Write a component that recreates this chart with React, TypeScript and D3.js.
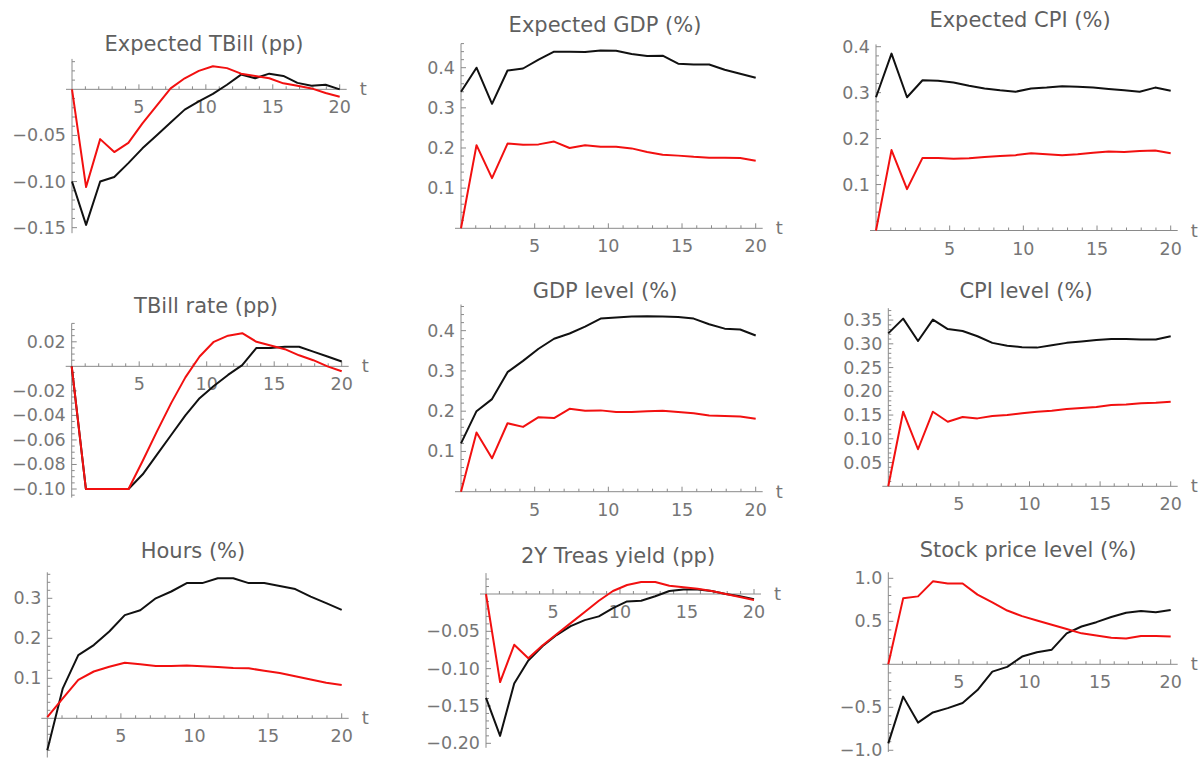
import React from "react";
import * as d3 from "d3";

// 20 quarterly points spread over t = 0..20 (DataRange {0,20})
const pointIndex = [0, 1, 2, 3, 4, 5, 6, 7, 8, 9, 10, 11, 12, 13, 14, 15, 16, 17, 18, 19];
const xTicksMajor = [5, 10, 15, 20];

const expTBillBlack = [-0.1, -0.147, -0.1, -0.095, -0.08, -0.064, -0.05, -0.036, -0.022, -0.013, -0.005, 0.005, 0.016, 0.012, 0.017, 0.0145, 0.007, 0.004, 0.005, 0.0];
const expTBillRed = [0, -0.106, -0.054, -0.068, -0.058, -0.037, -0.018, 0.001, 0.012, 0.02, 0.025, 0.023, 0.017, 0.0145, 0.012, 0.0065, 0.004, 0.001, -0.004, -0.008];

const expGdpBlack = [0.34, 0.4, 0.31, 0.393, 0.398, 0.42, 0.44, 0.44, 0.439, 0.443, 0.442, 0.434, 0.429, 0.43, 0.41, 0.408, 0.408, 0.395, 0.385, 0.375];
const expGdpRed = [0, 0.207, 0.125, 0.211, 0.208, 0.209, 0.216, 0.2, 0.207, 0.203, 0.203, 0.199, 0.19, 0.183, 0.181, 0.178, 0.176, 0.176, 0.175, 0.168];

const expCpiBlack = [0.29, 0.385, 0.29, 0.327, 0.326, 0.322, 0.315, 0.309, 0.305, 0.302, 0.309, 0.311, 0.314, 0.313, 0.311, 0.308, 0.305, 0.302, 0.311, 0.304];
const expCpiRed = [0, 0.175, 0.09, 0.158, 0.158, 0.156, 0.157, 0.16, 0.162, 0.164, 0.168, 0.166, 0.164, 0.166, 0.169, 0.172, 0.171, 0.173, 0.174, 0.168];

const tbillBlack = [0, -0.1, -0.1, -0.1, -0.1, -0.088, -0.072, -0.056, -0.04, -0.026, -0.016, -0.007, 0.001, 0.015, 0.015, 0.016, 0.016, 0.012, 0.008, 0.004];
const tbillRed = [0, -0.1, -0.1, -0.1, -0.1, -0.077, -0.053, -0.03, -0.009, 0.008, 0.02, 0.025, 0.027, 0.02, 0.017, 0.014, 0.009, 0.005, 0.0, -0.004];

const gdpBlack = [0.12, 0.2, 0.23, 0.297, 0.325, 0.355, 0.38, 0.393, 0.41, 0.43, 0.433, 0.435, 0.436, 0.435, 0.434, 0.43, 0.416, 0.405, 0.403, 0.388];
const gdpRed = [0, 0.147, 0.083, 0.17, 0.161, 0.185, 0.183, 0.206, 0.201, 0.202, 0.198, 0.198, 0.2, 0.201, 0.198, 0.195, 0.189, 0.188, 0.187, 0.181];

const cpiBlack = [0.322, 0.353, 0.306, 0.351, 0.331, 0.327, 0.316, 0.302, 0.296, 0.293, 0.292, 0.297, 0.302, 0.305, 0.308, 0.31, 0.31, 0.309, 0.309, 0.316];
const cpiRed = [0, 0.157, 0.078, 0.157, 0.136, 0.146, 0.143, 0.148, 0.15, 0.154, 0.157, 0.159, 0.163, 0.165, 0.167, 0.171, 0.172, 0.175, 0.176, 0.178];

const hoursBlack = [-0.08, 0.075, 0.158, 0.183, 0.217, 0.258, 0.27, 0.3, 0.317, 0.338, 0.338, 0.35, 0.35, 0.338, 0.338, 0.331, 0.323, 0.304, 0.288, 0.271];
const hoursRed = [0.003, 0.05, 0.096, 0.117, 0.129, 0.139, 0.135, 0.131, 0.131, 0.132, 0.13, 0.128, 0.126, 0.125, 0.119, 0.113, 0.105, 0.097, 0.089, 0.083];

const treas2yBlack = [-0.139, -0.19, -0.12, -0.089, -0.07, -0.055, -0.043, -0.035, -0.03, -0.019, -0.01, -0.009, -0.003, 0.004, 0.006, 0.006, 0.004, 0.0, -0.003, -0.007];
const treas2yRed = [0, -0.118, -0.068, -0.086, -0.069, -0.054, -0.039, -0.024, -0.009, 0.004, 0.012, 0.016, 0.016, 0.011, 0.009, 0.007, 0.004, 0.0, -0.004, -0.008];

const stockBlack = [-0.92, -0.376, -0.678, -0.56, -0.51, -0.45, -0.3, -0.085, -0.03, 0.09, 0.14, 0.17, 0.36, 0.44, 0.49, 0.55, 0.6, 0.62, 0.605, 0.632];
const stockRed = [0, 0.767, 0.79, 0.965, 0.94, 0.94, 0.81, 0.72, 0.625, 0.56, 0.51, 0.46, 0.41, 0.36, 0.335, 0.31, 0.3, 0.33, 0.33, 0.322];

const titles = [
  "Expected TBill (pp)", "Expected GDP (%)", "Expected CPI (%)",
  "TBill rate (pp)", "GDP level (%)", "CPI level (%)",
  "Hours (%)", "2Y Treas yield (pp)", "Stock price level (%)",
];
const blackSeries = [expTBillBlack, expGdpBlack, expCpiBlack, tbillBlack, gdpBlack, cpiBlack, hoursBlack, treas2yBlack, stockBlack];
const redSeries = [expTBillRed, expGdpRed, expCpiRed, tbillRed, gdpRed, cpiRed, hoursRed, treas2yRed, stockRed];
const yDomains: [number, number][] = [
  [-0.156, 0.033], [0, 0.46], [0, 0.405],
  [-0.107, 0.035], [0, 0.465], [0, 0.375],
  [-0.098, 0.365], [-0.206, 0.028], [-1.02, 1.07],
];
const yMajor = [0.05, 0.1, 0.1, 0.02, 0.1, 0.05, 0.1, 0.05, 0.5];
const yMinor = [0.01, 0.02, 0.02, 0.005, 0.02, 0.01, 0.02, 0.01, 0.1];
const yDecimals = [2, 1, 1, 2, 1, 2, 1, 2, 1];

// layout (pixels)
const layout = [
  { x0: 72, x20: 339.7, yBot: 233.2, yTop: 58.9, tx: 204, ty: 50.5 },
  { x0: 461, x20: 755.7, yBot: 228.3, yTop: 43.6, tx: 605, ty: 32 },
  { x0: 876, x20: 1170.7, yBot: 230.5, yTop: 44.4, tx: 1020, ty: 27 },
  { x0: 71.7, x20: 341.7, yBot: 497.6, yTop: 323.4, tx: 206, ty: 313 },
  { x0: 461, x20: 755.7, yBot: 491.7, yTop: 304.5, tx: 605, ty: 298 },
  { x0: 888.3, x20: 1170.7, yBot: 486.3, yTop: 308.2, tx: 1026, ty: 298 },
  { x0: 47.3, x20: 341.7, yBot: 757.5, yTop: 572.3, tx: 193, ty: 558 },
  { x0: 486, x20: 754, yBot: 747.8, yTop: 573.1, tx: 618, ty: 563 },
  { x0: 888.3, x20: 1170.7, yBot: 752, yTop: 572.3, tx: 1028, ty: 557 },
];

const FONT = "'DejaVu Sans', Verdana, sans-serif";
const AXIS = "#8a8a8a";
const LABEL = "#767676";
const TITLE = "#5f5f5f";

function Panel({ k }: { k: number }) {
  const L = layout[k];
  const [ymin, ymax] = yDomains[k];
  const xs = d3.scaleLinear().domain([0, 20]).range([L.x0, L.x20]);
  const idx = d3.scaleLinear().domain([0, 19]).range([0, 20]);
  const ys = d3.scaleLinear().domain([ymin, ymax]).range([L.yBot, L.yTop]);
  const y0 = ys(0);
  const line = d3
    .line<number>()
    .x((_, i) => xs(idx(pointIndex[i])))
    .y((d) => ys(d));

  const minorStep = yMinor[k];
  const major = yMajor[k];
  const yt: { v: number; major: boolean }[] = [];
  for (let n = Math.ceil(ymin / minorStep - 1e-9); n <= Math.floor(ymax / minorStep + 1e-9); n++) {
    if (n === 0) continue;
    const v = n * minorStep;
    const r = v / major;
    yt.push({ v, major: Math.abs(r - Math.round(r)) < 1e-6 });
  }
  const fmt = d3.format(`.${yDecimals[k]}f`);
  const xt = d3.range(1, 21);

  return (
    <g>
      <text x={L.tx} y={L.ty} textAnchor="middle" fontFamily={FONT} fontSize={21} fill={TITLE}>
        {titles[k]}
      </text>
      {/* axes */}
      <line x1={L.x0 - 6} x2={L.x20 + 7} y1={y0} y2={y0} stroke={AXIS} strokeWidth={1} />
      <line x1={L.x0} x2={L.x0} y1={L.yTop} y2={L.yBot} stroke={AXIS} strokeWidth={1} />
      {xt.map((t) => {
        const isMajor = xTicksMajor.includes(t);
        return (
          <line key={"xt" + t} x1={xs(t)} x2={xs(t)} y1={y0} y2={y0 - (isMajor ? 5 : 3)} stroke={AXIS} strokeWidth={1} />
        );
      })}
      {xTicksMajor.map((t) => (
        <text key={"xl" + t} x={xs(t)} y={y0 + 24} textAnchor="middle" fontFamily={FONT} fontSize={17.5} fill={LABEL}>
          {t}
        </text>
      ))}
      <text x={L.x20 + 20} y={y0 + 6} fontFamily={FONT} fontSize={18} fill={LABEL}>
        t
      </text>
      {yt.map((d, i) => (
        <line key={"yt" + i} x1={L.x0} x2={L.x0 + (d.major ? 5 : 3)} y1={ys(d.v)} y2={ys(d.v)} stroke={AXIS} strokeWidth={1} />
      ))}
      {yt
        .filter((d) => d.major)
        .map((d, i) => (
          <text key={"yl" + i} x={L.x0 - 6} y={ys(d.v) + 6} textAnchor="end" fontFamily={FONT} fontSize={17.5} fill={LABEL}>
            {fmt(d.v)}
          </text>
        ))}
      <path d={line(blackSeries[k]) || ""} fill="none" stroke="#111" strokeWidth={2} strokeLinejoin="round" />
      <path d={line(redSeries[k]) || ""} fill="none" stroke="#f21010" strokeWidth={2} strokeLinejoin="round" />
    </g>
  );
}

export default function App() {
  return (
    <svg
      width={1203}
      height={761}
      style={{ position: "absolute", left: 0, top: 0, background: "#fff" }}
    >
      <rect width={1203} height={761} fill="#fff" />
      {titles.map((_, k) => (
        <Panel key={k} k={k} />
      ))}
    </svg>
  );
}
